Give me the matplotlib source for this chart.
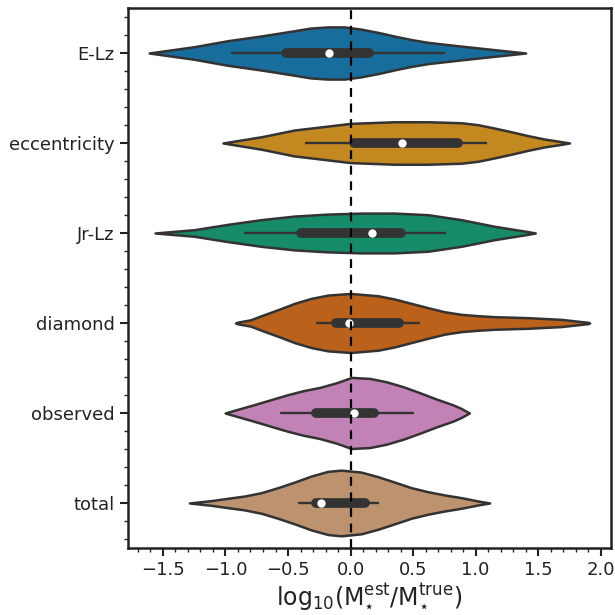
import colorsys
import matplotlib
matplotlib.use('Agg')
import matplotlib.pyplot as plt
import matplotlib.colors as mcolors
from matplotlib.ticker import AutoMinorLocator

# categories (top to bottom)
labels = ['E-Lz', 'eccentricity', 'Jr-Lz', 'diamond', 'observed', 'total']
base_colors = ['#0173b2', '#de8f05', '#029e73', '#d55e00', '#cc78bc', '#ca9161']

# violin outlines: x positions and half widths (category units)
elz_x = [-1.61, -1.25, -0.98, -0.71, -0.45, -0.32, -0.18, -0.05, 0.08, 0.22, 0.35, 0.49, 0.62, 0.88, 1.15, 1.40]
elz_w = [0.0, 0.07, 0.137, 0.19, 0.247, 0.277, 0.29, 0.29, 0.266, 0.229, 0.188, 0.148, 0.118, 0.077, 0.037, 0.0]

ecc_x = [-1.02, -0.71, -0.45, -0.18, 0.0, 0.35, 0.62, 0.885, 1.02, 1.15, 1.285, 1.42, 1.55, 1.685, 1.75]
ecc_w = [0.0, 0.07, 0.144, 0.188, 0.218, 0.236, 0.236, 0.225, 0.203, 0.166, 0.125, 0.081, 0.044, 0.015, 0.0]

jr_x = [-1.563, -1.248, -0.981, -0.715, -0.448, -0.181, 0.085, 0.352, 0.619, 0.885, 1.152, 1.419, 1.477]
jr_w = [0.0, 0.037, 0.096, 0.148, 0.188, 0.21, 0.221, 0.221, 0.203, 0.148, 0.074, 0.015, 0.0]

dia_x = [-0.92, -0.90, -0.80, -0.715, -0.58, -0.448, -0.315, -0.18, 0.0, 0.218, 0.352, 0.485, 0.618, 0.75, 0.885,
         1.018, 1.15, 1.418, 1.685, 1.90, 1.912]
dia_w = [0.0, 0.01, 0.035, 0.08, 0.148, 0.218, 0.273, 0.31, 0.328, 0.303, 0.266, 0.218, 0.17, 0.125, 0.096,
         0.081, 0.07, 0.059, 0.04, 0.007, 0.0]

obs_x = [-1.003, -0.966, -0.78, -0.646, -0.513, -0.38, -0.246, -0.112, 0.008, 0.154, 0.286, 0.42, 0.554,
         0.686, 0.82, 0.885, 0.93, 0.95]
obs_w = [0.0, 0.015, 0.089, 0.144, 0.199, 0.247, 0.284, 0.336, 0.395, 0.384, 0.347, 0.292, 0.225,
         0.155, 0.09, 0.05, 0.015, 0.0]

tot_x = [-1.288, -1.115, -0.981, -0.848, -0.715, -0.581, -0.448, -0.315, -0.181, -0.075, 0.085, 0.219,
         0.352, 0.485, 0.619, 0.752, 0.885, 1.019, 1.112]
tot_w = [0.0, 0.026, 0.052, 0.077, 0.114, 0.17, 0.232, 0.299, 0.351, 0.365, 0.343, 0.292, 0.232, 0.17,
         0.125, 0.089, 0.059, 0.022, 0.0]

# box summaries: whisker low, q1, median, q3, whisker high
whisk_lo = [-0.95, -0.36, -0.84, -0.27, -0.555, -0.413]
q1 = [-0.52, 0.027, -0.40, -0.12, -0.275, -0.275]
median = [-0.17, 0.41, 0.17, -0.013, 0.027, -0.24]
q3 = [0.15, 0.86, 0.40, 0.384, 0.187, 0.112]
whisk_hi = [0.75, 1.085, 0.757, 0.547, 0.499, 0.219]

profiles = [(elz_x, elz_w), (ecc_x, ecc_w), (jr_x, jr_w), (dia_x, dia_w), (obs_x, obs_w), (tot_x, tot_w)]


def desat(c, prop=0.75):
    r, g, b = mcolors.to_rgb(c)
    h, l, s = colorsys.rgb_to_hls(r, g, b)
    return colorsys.hls_to_rgb(h, l, s * prop)


fig = plt.figure(figsize=(6.15, 6.15), dpi=100)
ax = fig.add_axes([0.208, 0.109, 0.785, 0.878])

edge = '#333333'
for i, (xs, ws) in enumerate(profiles):
    lo = [i - w for w in ws]
    hi = [i + w for w in ws]
    ax.fill_between(xs, lo, hi, facecolor=desat(base_colors[i]), edgecolor=edge,
                    linewidth=1.8, joinstyle='round', capstyle='round', zorder=2)
    ax.plot([whisk_lo[i], whisk_hi[i]], [i, i], color=edge, lw=1.7, solid_capstyle='round', zorder=3)
    ax.plot([q1[i], q3[i]], [i, i], color=edge, lw=7, solid_capstyle='round', zorder=3)
    ax.plot(median[i], i, 'o', color='white', markersize=5, zorder=4)

ax.axvline(0, color='black', lw=1.6, ls=(0, (4, 3)), zorder=5)

ax.set_xlim(-1.78, 2.08)
ax.set_ylim(5.5, -0.5)
ax.set_yticks(range(len(labels)))
ax.set_yticklabels(labels, fontsize=13, color='#222222')
ax.set_xticks([-1.5, -1.0, -0.5, 0.0, 0.5, 1.0, 1.5, 2.0])
ax.tick_params(axis='x', labelsize=13, labelcolor='#222222')
ax.xaxis.set_minor_locator(AutoMinorLocator(5))
ax.yaxis.set_minor_locator(AutoMinorLocator(5))
ax.tick_params(which='major', length=6, width=1.5, color='#222222')
ax.tick_params(which='minor', length=3, width=1.0, color='#222222')
for sp in ax.spines.values():
    sp.set_linewidth(1.8)
    sp.set_color('#222222')

ax.set_xlabel(r'$\mathrm{log_{10}(M_{\star}^{est}/M_{\star}^{true})}$', fontsize=17, color='#222222', labelpad=2)

fig.savefig('out.png', dpi=100)
